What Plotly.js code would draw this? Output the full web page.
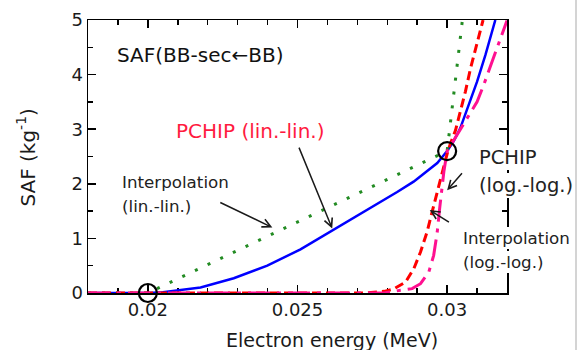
<!DOCTYPE html>
<html><head><meta charset="utf-8">
<script src="https://cdn.plot.ly/plotly-3.0.1.min.js"></script>
<style>html,body{margin:0;padding:0;background:#fff}#chart{width:577px;height:350px}</style>
</head><body><div id="chart"></div>
<script>
// Knots (circled data points)
const knotEnergy = [0.02, 0.03];
const knotSAF = [0, 2.6];

// PCHIP (lin.-lin.) - blue solid
const energyPchipLin = [0.018, 0.020, 0.0205, 0.021, 0.02176, 0.02287, 0.02399, 0.0251, 0.02621, 0.02733, 0.02833, 0.02888, 0.02967, 0.030, 0.03022, 0.03044, 0.03072, 0.031, 0.03128, 0.03161];
const safPchipLin    = [0, 0, 0.015, 0.045, 0.10, 0.27, 0.50, 0.80, 1.16, 1.52, 1.85, 2.04, 2.38, 2.60, 2.78, 3.02, 3.43, 3.87, 4.36, 5.0];

// Interpolation (lin.-lin.) - green dotted
const energyInterpLin = [0.018, 0.020, 0.030, 0.03051];
const safInterpLin    = [0, 0, 2.6, 5.0];

// PCHIP (log.-log.) - red dashed
const energyPchipLog = [0.018, 0.0273, 0.0279, 0.0282, 0.02861, 0.02889, 0.02911, 0.02933, 0.0295, 0.02967, 0.02983, 0.030, 0.03011, 0.03028, 0.03061, 0.03078, 0.0312];
const safPchipLog    = [0, 0, 0.03, 0.07, 0.20, 0.45, 0.75, 1.12, 1.49, 1.85, 2.22, 2.55, 2.74, 2.98, 3.69, 4.11, 5.0];

// Interpolation (log.-log.) - magenta dash-dot
const energyInterpLog = [0.018, 0.0279, 0.02844, 0.02883, 0.02911, 0.02939, 0.02955, 0.02967, 0.02975, 0.02983, 0.02989, 0.030, 0.03033, 0.03072, 0.031, 0.03122, 0.03156, 0.03172, 0.03195, 0.032];
const safInterpLog    = [0, 0, 0.05, 0.08, 0.17, 0.39, 0.69, 1.12, 1.55, 1.91, 2.22, 2.6, 2.9, 3.25, 3.5, 3.81, 4.33, 4.57, 4.91, 4.99];

// Tick labels
const xTickVals = [0.02, 0.025, 0.03];
const xTickText = ['0.02', '0.025', '0.03'];
const yTickVals = [0, 1, 2, 3, 4, 5];
const yTickText = ['0', '1', '2', '3', '4', '5'];

const traces = [
  {x: energyPchipLin, y: safPchipLin, mode: 'lines', line: {color: '#0000ff', width: 2.5}, cliponaxis: false},
  {x: energyInterpLin, y: safInterpLin, mode: 'lines', line: {color: '#228b22', width: 3, dash: '3px,11px'}, cliponaxis: false},
  {x: energyPchipLog, y: safPchipLog, mode: 'lines', line: {color: '#ff0000', width: 3, dash: '9px,5px'}, cliponaxis: false},
  {x: energyInterpLog, y: safInterpLog, mode: 'lines', line: {color: '#ff1090', width: 3, dash: '22px,7px,4px,7px'}, cliponaxis: false},
  {x: knotEnergy, y: knotSAF, mode: 'markers', marker: {symbol: 'circle-open', size: 18, color: '#000', line: {width: 2.2, color: '#000'}}, cliponaxis: false}
];

const axisCommon = {
  ticks: 'inside', ticklen: 8, tickwidth: 1.5, tickcolor: '#000',
  showline: true, linecolor: '#000', linewidth: 1.5, mirror: 'ticks',
  showgrid: false, zeroline: false, layer: 'below traces', fixedrange: true,
  tickfont: {family: 'DejaVu Sans', size: 18, color: '#1a1a1a'}
};

const darkText = '#222222';
const annFont = (s, c) => ({family: 'DejaVu Sans', size: s, color: c || darkText});
const textAnn = (x, y, text, size, color, bg) => ({
  x: x, y: y, xref: 'x', yref: 'y', text: text, showarrow: false,
  xanchor: 'left', yanchor: 'middle', borderpad: bg ? 1 : 0, borderwidth: 0,
  bgcolor: bg ? '#ffffff' : 'rgba(0,0,0,0)',
  font: annFont(size, color)
});
const arrowAnn = (x, y, ax, ay) => ({
  x: x, y: y, ax: ax, ay: ay, xref: 'x', yref: 'y', axref: 'x', ayref: 'y',
  text: '', showarrow: true, arrowhead: 5, arrowsize: 1.1, arrowwidth: 1.5, arrowcolor: '#1a1a1a', standoff: 0, startstandoff: 0
});

const layout = {
  width: 577, height: 350,
  margin: {l: 88, r: 70, t: 20, b: 57, pad: 0},
  paper_bgcolor: '#ffffff', plot_bgcolor: '#ffffff',
  showlegend: false,
  font: {family: 'DejaVu Sans', size: 18, color: '#1a1a1a'},
  xaxis: Object.assign({}, axisCommon, {
    range: [0.018, 0.032], tickmode: 'array', tickvals: xTickVals, ticktext: xTickText,
    minor: {tickmode: 'linear', tick0: 0.018, dtick: 0.001, ticks: 'inside', ticklen: 5, tickwidth: 1.5, tickcolor: '#000', showgrid: false}
  }),
  yaxis: Object.assign({}, axisCommon, {
    range: [0, 5], tickmode: 'array', tickvals: yTickVals, ticktext: yTickText,
    minor: {tickmode: 'linear', tick0: 0, dtick: 0.5, ticks: 'inside', ticklen: 5, tickwidth: 1.5, tickcolor: '#000', showgrid: false}
  }),
  annotations: [
    // axis titles
    {x: 0.02615, y: -0.1716, xref: 'x', yref: 'paper', text: 'Electron energy (MeV)', showarrow: false,
     xanchor: 'center', yanchor: 'middle', font: annFont(19, '#1a1a1a')},
    {x: -0.148, y: 0.496, xref: 'paper', yref: 'paper', text: 'SAF (kg<sup>-1</sup>)', showarrow: false,
     textangle: -90, xanchor: 'center', yanchor: 'middle', font: annFont(20, '#1a1a1a')},
    // labels
    textAnn(0.01898, 4.35, 'SAF(BB-sec\u2190BB)', 20, '#111111'),
    textAnn(0.02093, 2.965, 'PCHIP (lin.-lin.)', 20, '#ff1a40'),
    textAnn(0.01914, 2.03, 'Interpolation', 16.7),
    textAnn(0.01914, 1.59, '(lin.-lin.)', 16.7),
    textAnn(0.03103, 2.49, 'PCHIP', 19.5, darkText, true),
    textAnn(0.03103, 1.96, '(log.-log.)', 19.5, darkText, true),
    textAnn(0.03048, 1.0, 'Interpolation', 16.7, darkText, true),
    textAnn(0.03048, 0.57, '(log.-log.)', 16.7, darkText, true),
    // arrows
    arrowAnn(0.02416, 1.20, 0.02237, 1.67),
    arrowAnn(0.02616, 1.18, 0.02503, 2.69),
    arrowAnn(0.03000, 1.88, 0.03054, 2.22),
    arrowAnn(0.02942, 1.52, 0.03011, 1.28)
  ],
  shapes: [
    {type: 'line', xref: 'paper', yref: 'paper', x0: 1.1647, x1: 1.1647, y0: -0.21, y1: 1.08,
     line: {color: '#d4d4d4', width: 2}}
  ]
};

Plotly.newPlot('chart', traces, layout, {displayModeBar: false, staticPlot: true});
</script></body></html>
